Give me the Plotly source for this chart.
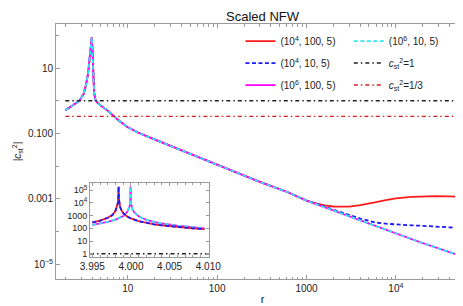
import plotly.graph_objects as go

# ---------------- data ----------------
r_main = [2.0, 2.5, 2.88, 3.2, 3.41, 3.6, 3.72, 3.82, 3.9, 3.96, 4.02, 4.06, 4.12,
          4.2, 4.35, 4.6, 5.0, 5.5, 6.0, 7.0, 8.0, 10.0, 13.0, 16.7, 28.0, 47.0,
          79.0, 132.0, 300.0, 600.0, 1000.0, 1300.0, 1600.0, 2000.0, 2500.0,
          3000.0, 4000.0, 5000.0, 6000.0, 7700.0, 10000.0, 15000.0, 20000.0,
          28000.0, 40000.0, 50000.0]

# (10^6, 100, 5) and (10^6, 10, 5)
y_m6 = [0.51, 0.75, 1.0, 1.6, 3.1, 7.0, 16.0, 30.0, 55.0, 87.0, 40.0, 12.0, 3.5,
        1.8, 1.05, 0.86, 0.71, 0.59, 0.49, 0.34, 0.245, 0.155, 0.107, 0.08,
        0.045, 0.025, 0.014, 0.0078, 0.0033, 0.00165, 0.00088, 6.8e-4, 5.5e-4,
        4.4e-4, 3.5e-4, 2.9e-4, 2.2e-4, 1.76e-4, 1.47e-4, 1.15e-4, 8.8e-5,
        5.9e-5, 4.45e-5, 3.2e-5, 2.35e-5, 1.9e-5]

# (10^4, 100, 5)
y_red = [0.51, 0.75, 1.0, 1.6, 3.1, 7.0, 16.0, 30.0, 55.0, 87.0, 40.0, 12.0, 3.5,
         1.8, 1.05, 0.86, 0.71, 0.59, 0.49, 0.34, 0.245, 0.155, 0.107, 0.08,
         0.045, 0.025, 0.014, 0.0078, 0.0033, 0.00165, 0.00088, 7.2e-4, 6.3e-4,
         5.85e-4, 5.7e-4, 5.8e-4, 6.4e-4, 7.1e-4, 7.9e-4, 9.2e-4, 1.04e-3,
         1.15e-3, 1.2e-3, 1.22e-3, 1.19e-3, 1.15e-3]

# (10^4, 10, 5)
y_blue = [0.51, 0.75, 1.0, 1.6, 3.1, 7.0, 16.0, 30.0, 55.0, 87.0, 40.0, 12.0, 3.5,
          1.8, 1.05, 0.86, 0.71, 0.59, 0.49, 0.34, 0.245, 0.155, 0.107, 0.08,
          0.045, 0.025, 0.014, 0.0078, 0.0033, 0.00165, 0.00089, 7.0e-4, 5.7e-4,
          4.6e-4, 3.75e-4, 3.2e-4, 2.5e-4, 2.1e-4, 1.88e-4, 1.74e-4, 1.63e-4,
          1.55e-4, 1.5e-4, 1.44e-4, 1.36e-4, 1.3e-4]

r_ref = [2.0, 50000.0]
c1 = [1.0, 1.0]
c13 = [1 / 3, 1 / 3]

# inset
r_in_4 = [3.995, 3.996, 3.997, 3.9976, 3.998, 3.9982, 3.9983, 3.99835, 3.9984,
          3.99845, 3.9985, 3.9986, 3.9988, 3.999, 3.9995, 4.0, 4.001, 4.002,
          4.003, 4.004, 4.006, 4.008, 4.0095]
y_in_4 = [290, 400, 680, 1100, 2400, 4800, 9500, 19000, 200000, 19000, 9500,
          4800, 2400, 1600, 870, 600, 370, 265, 205, 170, 125, 100, 88]
r_in_6 = [3.995, 3.996, 3.997, 3.998, 3.9985, 3.999, 3.9995, 3.9997, 3.9998,
          3.9999, 3.99995, 4.0, 4.0001, 4.0002, 4.0004, 4.0007, 4.001, 4.0015,
          4.002, 4.003, 4.004, 4.006, 4.008, 4.0095]
y_in_6 = [190, 240, 320, 490, 650, 950, 1900, 3200, 4800, 9500, 200000, 9500,
          4800, 3200, 1900, 1200, 900, 620, 470, 320, 240, 160, 120, 100]
r_in_ref = [3.9947, 4.0101]
c1_in = [1.0, 1.0]

x_ticks = [10, 100, 1000, 10000]
x_ticktext = ["10", "100", "1000", "10<sup>4</sup>"]
y_ticks = [10, 0.1, 0.001, 1e-5]
y_ticktext = ["10", "0.100", "0.001", "10<sup>\u22125</sup>"]
yi_ticks = [1, 10, 100, 1000, 1e4, 1e5]
yi_ticktext = ["1", "10", "100", "1000", "10<sup>4</sup>", "10<sup>5</sup>"]
xi_ticks = [3.995, 4.0, 4.005, 4.01]
xi_ticktext = ["3.995", "4.000", "4.005", "4.010"]

# ---------------- styles ----------------
RED = "#ff1a1a"
BLUE = "#1a1aff"
MAG = "#ff00ff"
CYAN = "#30e8f0"
BLK = "#222222"
DRED = "#d42020"
DASH = "4px,2.5px"
DASHDOT = "4px,3px,1.5px,3px"
FONT = "Liberation Sans, Arial, sans-serif"

fig = go.Figure()

def add(x, y, color, dash, name, legend, xa="x", ya="y", show=True, width=1.8):
    fig.add_trace(go.Scatter(
        x=x, y=y, mode="lines", name=name, xaxis=xa, yaxis=ya,
        line=dict(color=color, width=width, dash=dash),
        showlegend=show, legend=legend, legendgroup=name))

# main
add(r_main, y_red, RED, "solid", "(10<sup>4</sup>, 100, 5)", "legend")
add(r_main, y_blue, BLUE, DASH, "(10<sup>4</sup>, 10, 5)", "legend")
add(r_main, y_m6, MAG, "solid", "(10<sup>6</sup>, 100, 5)", "legend")
add(r_main, y_m6, CYAN, DASH, "(10<sup>6</sup>, 10, 5)", "legend2")
add(r_ref, c1, BLK, DASHDOT, "<i>c</i><sub>st</sub><sup>2</sup>=1", "legend2", width=1.4)
add(r_ref, c13, DRED, DASHDOT, "<i>c</i><sub>st</sub><sup>2</sup>=1/3", "legend2", width=1.4)

# inset
add(r_in_6, y_in_6, MAG, "solid", "m", "legend", "x2", "y2", False)
add(r_in_6, y_in_6, CYAN, DASH, "c", "legend", "x2", "y2", False)
add(r_in_4, y_in_4, RED, "solid", "r", "legend", "x2", "y2", False)
add(r_in_4, y_in_4, BLUE, DASH, "b", "legend", "x2", "y2", False)
add(r_in_ref, c1_in, BLK, DASHDOT, "k", "legend", "x2", "y2", False, 1.4)

AX = dict(showline=True, linecolor="#9a9a9a", linewidth=1, mirror="ticks",
          ticks="inside", tickcolor="#9a9a9a", ticklen=4, showgrid=False,
          zeroline=False, automargin=False,
          tickfont=dict(size=10, color="#222", family=FONT))

minor_x = [m * 10 ** e for e in range(0, 5) for m in range(2, 10)]
minor_y = [100, 1, 0.01, 1e-4]

fig.update_layout(
    width=463, height=306,
    margin=dict(l=48, r=2, t=16, b=35, autoexpand=False),
    paper_bgcolor="white", plot_bgcolor="white",
    font=dict(family=FONT, size=10, color="#222"),
    title=dict(text="Scaled NFW", x=0.5, xref="paper", xanchor="center",
               y=0.974, yref="container", yanchor="middle",
               font=dict(size=13, color="#111", family=FONT)),
    xaxis=dict(AX, type="log", range=[0.197, 4.818],
               tickmode="array", tickvals=x_ticks, ticktext=x_ticktext,
               minor=dict(ticks="inside", ticklen=2.5, tickcolor="#9a9a9a",
                          tickmode="array", tickvals=minor_x),
               title=dict(text="r", standoff=2, font=dict(size=11, family=FONT))),
    yaxis=dict(AX, type="log", range=[-5.45, 2.347],
               tickmode="array", tickvals=y_ticks, ticktext=y_ticktext,
               minor=dict(ticks="inside", ticklen=3, tickcolor="#9a9a9a",
                          tickmode="array", tickvals=minor_y),
               title=dict(text="|<i>c</i><sub>st</sub><sup>2</sup>|", standoff=4,
                          font=dict(size=10, family=FONT))),
    xaxis2=dict(AX, domain=[0.0823, 0.3705], anchor="y2", range=[3.9947, 4.0101],
                tickmode="array", tickvals=xi_ticks, ticktext=xi_ticktext,
                ticklen=3,
                minor=dict(ticks="inside", ticklen=2, tickcolor="#9a9a9a",
                           dtick=0.001, tick0=3.995)),
    yaxis2=dict(AX, domain=[0.0863, 0.3765], anchor="x2", type="log",
                range=[-0.26, 5.576], ticklen=3,
                tickfont=dict(size=9, color="#222", family=FONT),
                tickmode="array", tickvals=yi_ticks, ticktext=yi_ticktext),
    legend=dict(x=0.4466, y=0.99, xanchor="left", yanchor="top",
                bgcolor="rgba(0,0,0,0)", borderwidth=0,
                font=dict(size=10, family=FONT, color="#222"),
                traceorder="grouped", tracegroupgap=3, itemwidth=30),
    legend2=dict(x=0.709, y=0.99, xanchor="left", yanchor="top",
                 bgcolor="rgba(0,0,0,0)", borderwidth=0,
                 font=dict(size=10, family=FONT, color="#222"),
                 traceorder="grouped", tracegroupgap=3, itemwidth=30),
)

fig.write_html("out.html")
